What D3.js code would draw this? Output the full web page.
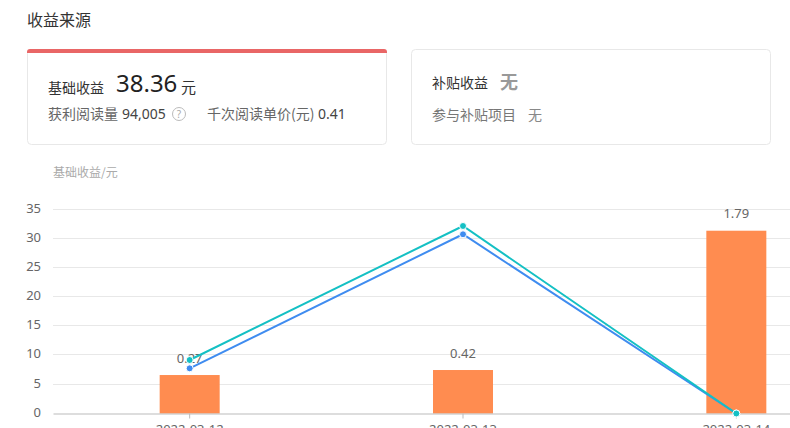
<!DOCTYPE html>
<html><head><meta charset="utf-8">
<script src="https://cdn.jsdelivr.net/npm/d3@7/dist/d3.min.js"></script>
<style>
html,body{margin:0;padding:0;background:#fff;overflow:hidden}
svg{display:block;font-family:"Noto Sans CJK SC","Noto Sans",sans-serif}
</style></head><body>
<svg id="c" width="790" height="428"></svg>
<script>
const categories=["2022-03-12","2022-03-13","2022-03-14"];
const barValues=[6.6,7.46,31.36];
const barLabels=["0.27","0.42","1.79"];
const lineTeal=[9.18,32.17,0];
const lineBlue=[7.75,30.75,0];
const yTicks=[0,5,10,15,20,25,30,35];
const svg=d3.select("#c");
const latin='"Noto Sans","Noto Sans CJK SC",sans-serif';
function txt(x,y,s,size,fill,opts={}){
  const t=svg.append("text").attr("x",x).attr("y",y).attr("font-size",size).attr("fill",fill).text(s);
  if(opts.anchor)t.attr("text-anchor",opts.anchor);
  if(opts.weight)t.attr("font-weight",opts.weight);
  if(opts.font)t.attr("font-family",opts.font);
  return t;
}
txt(27,26,"收益来源",16,"#333");
svg.append("rect").attr("x",27.5).attr("y",49.5).attr("width",359).attr("height",95).attr("rx",4).attr("fill","#fff").attr("stroke","#e8e8e8");
svg.append("path").attr("d","M27 53V52a3 3 0 0 1 3-3H384a3 3 0 0 1 3 3V53Z").attr("fill","#e96666");
txt(48,93,"基础收益",14,"#333");
txt(116,92,"38.36",24,"#222",{font:latin});
txt(181,92.5,"元",15,"#333");
txt(48,119,"获利阅读量",14,"#666");
txt(122,119,"94,005",14,"#444",{font:latin});
svg.append("circle").attr("cx",179).attr("cy",114).attr("r",6.5).attr("fill","none").attr("stroke","#bbb");
txt(179,118,"?",10,"#aaa",{anchor:"middle",font:latin});
txt(207,119,"千次阅读单价(元)",14,"#666");
txt(318,119,"0.41",14,"#444",{font:latin});
svg.append("rect").attr("x",411.5).attr("y",49.5).attr("width",359).attr("height",95).attr("rx",4).attr("fill","#fff").attr("stroke","#e8e8e8");
txt(432,88,"补贴收益",14,"#333");
txt(500,89,"无",18,"#999",{weight:700});
txt(432,120,"参与补贴项目",14,"#777");
txt(528,120,"无",14,"#888");
txt(53,177,"基础收益/元",12,"#aaa");

const x=d3.scaleBand().domain(categories).range([53,873]);
const y=d3.scaleLinear().domain([0,35]).range([413.5,209.5]);
const cx=c=>x(c)+x.bandwidth()/2;
const yAxis=d3.axisLeft(y).tickValues(yTicks).tickSize(0).tickPadding(0);
const gy=svg.append("g").attr("transform","translate(41,-1.5)").call(yAxis);
gy.select(".domain").remove();
gy.selectAll("text").attr("font-size",13).attr("fill","#666").attr("font-family",latin);
svg.append("g").selectAll("line").data(yTicks.filter(d=>d>0)).join("line")
  .attr("x1",53).attr("x2",790).attr("y1",d=>Math.floor(y(d)-.3)+.5).attr("y2",d=>Math.floor(y(d)-.3)+.5).attr("stroke","#e8e8e8");
svg.append("g").selectAll("rect").data(categories).join("rect")
  .attr("x",c=>cx(c)-30).attr("width",60).attr("y",(c,i)=>y(barValues[i])).attr("height",(c,i)=>y(0)-y(barValues[i])).attr("fill","#ff8c50");
const xAxis=d3.axisBottom(x).tickSize(5).tickPadding(6).tickSizeOuter(0);
const gx=svg.append("g").attr("transform","translate(0,413.5)").call(xAxis);
gx.select(".domain").attr("stroke","#bbb");
gx.selectAll("line").attr("stroke","#bbb");
gx.selectAll("text").attr("font-size",13).attr("fill","#666").attr("font-family",latin);
svg.append("g").selectAll("text").data(categories).join("text")
  .attr("x",cx).attr("y",(c,i)=>y(barValues[i])-12.5).attr("text-anchor","middle").attr("font-size",13).attr("fill","#666")
  .attr("font-family",latin).text((c,i)=>barLabels[i]);
[[lineBlue,"#3f8cf0"],[lineTeal,"#14c0c4"]].forEach(([vals,col])=>{
  const line=d3.line().x((v,i)=>cx(categories[i])).y(v=>y(v));
  svg.append("path").attr("d",line(vals)).attr("fill","none").attr("stroke",col).attr("stroke-width",2);
  svg.append("g").selectAll("circle").data(vals).join("circle")
    .attr("cx",(v,i)=>cx(categories[i])).attr("cy",v=>y(v)).attr("r",3.5).attr("fill",col).attr("stroke","#fff").attr("stroke-width",1);
});
</script></body></html>
